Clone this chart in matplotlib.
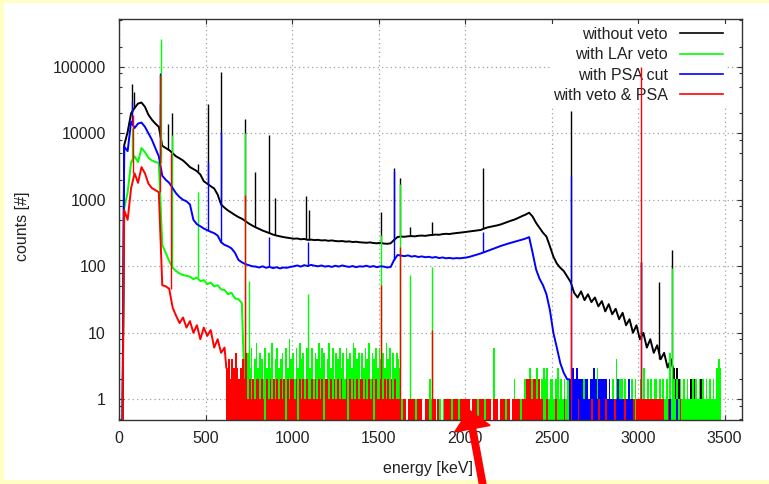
import matplotlib.pyplot as plt
import numpy as np
from matplotlib.lines import Line2D
from matplotlib.patches import Rectangle, FancyArrow
from matplotlib.ticker import FixedLocator, NullLocator

plt.rcParams['font.family'] = ['Liberation Sans', 'DejaVu Sans']

# high-count part of each spectrum, 20 keV bins starting at 0 keV
black_hi = [0, 6600, 10500, 20000, 24000, 28000, 29000, 25000, 19000, 16000,
            14000, 12500, 6500, 6000, 5600, 5000, 4500, 4200, 3900, 3500,
            3100, 2900, 2700, 2400, 1900, 1750, 1600, 1480, 1200, 850,
            760, 690, 640, 590, 550, 520, 480, 440, 410, 385,
            365, 345, 330, 315, 300, 290, 282, 275, 270, 265,
            260, 262, 255, 258, 250, 252, 248, 250, 245, 247,
            242, 245, 240, 238, 240, 235, 237, 232, 234, 230,
            228, 226, 229, 224, 222, 225, 220, 218, 222, 250,
            276, 280, 278, 283, 285, 282, 288, 290, 287, 293,
            296, 300, 298, 305, 308, 306, 312, 316, 320, 325,
            330, 335, 340, 345, 352, 370, 385, 395, 405, 415,
            430, 450, 470, 490, 510, 540, 570, 600, 640, 560,
            450, 380, 320, 280, 200, 140, 110, 95, 85, 70,
            58, 40, 34, 42, 31, 38, 29, 34, 25, 30,
            21, 27, 19, 23, 16, 20, 13, 16, 10, 13,
            8, 10, 6, 8, 5, 6.5, 4, 5, 3, 4]
green_hi = [0, 740, 1300, 3700, 4500, 3700, 6000, 5200, 4300, 3900,
            3700, 3600, 210, 160, 120, 95, 85, 78, 74, 72,
            70, 64, 68, 60, 62, 54, 57, 50, 52, 45,
            44, 38, 40, 33, 32, 28]
blue_hi = [0, 6300, 5400, 15000, 12000, 14000, 14500, 12500, 10000, 8000,
           6000, 4500, 2300, 2000, 1800, 1500, 1250, 1100, 1000, 950,
           850, 500, 430, 400, 370, 350, 330, 315, 290, 230,
           210, 200, 186, 160, 125, 115, 108, 104, 100, 99,
           96, 100, 95, 98, 94, 97, 93, 96, 95, 98,
           100, 103, 99, 104, 101, 105, 102, 100, 103, 99,
           101, 98, 102, 99, 103, 100, 98, 101, 97, 100,
           99, 102, 98, 101, 97, 100, 99, 96, 98, 125,
           148, 145, 142, 146, 140, 143, 138, 141, 137, 139,
           135, 138, 133, 136, 132, 134, 131, 133, 132, 134,
           136, 140, 145, 150, 156, 163, 170, 178, 186, 195,
           204, 212, 220, 228, 236, 244, 252, 262, 275, 160,
           90, 65, 52, 38, 22, 10, 6, 3.5, 2.5, 2]
red_hi = [0, 700, 500, 1500, 2500, 1800, 3100, 2500, 1750, 1500,
          1400, 1300, 52, 50, 46, 24, 18, 14, 17, 12,
          15, 10, 13, 8, 12, 9, 11, 6, 8, 5,
          6]

# low-count tails, one digit per 10 keV bin, continuing where *_hi ends
black_lo = "3232212121 2121112101 1011011000"
green_lo = ("42536247 3542635372 4634526384 5263745263 3625473652 4736254635 "
            "2645376452 5364725463 6453746253 5431010110 0101100102 1010010110 "
            "0110101001 1010110100 0110106010 1011010120 1010212322 2321232312 "
            "2123121212 1212312121 2121213121 1212121412 2121212121 1213121212 "
            "2121212151 2121212121 1212121212 1212134300")
blue_lo = ("2232322212 2122321222 2212111121 1111211100 1010010100 0100100010 "
           "0010000000 0000000000 0000000000")
red_lo = ("34243532 3425121212 2121021212 1212120212 2120212121 1212121202 "
          "2121212121 1202121212 2121212021 1212121212 1110110111 1011100110 "
          "0110100011 1101110111 1110111011 1011101110 1110110111 1101122212 "
          "2121100100 0010000100 0100010000 0001000100 0100001000 0010000101 "
          "1111111111 1111100100 0000100000 0000000000 0000000000")

# gamma lines: (energy keV, peak counts)
black_peaks = [(75, 56000), (87, 42000), (237, 28000), (281, 14000), (304, 19900),
               (454, 3400), (512, 28000), (589, 84000), (727, 16400), (785, 2660),
               (866, 9400), (900, 1050), (1079, 1140), (1098, 700), (1512, 650),
               (1589, 3050), (1621, 2100), (1679, 390), (1808, 470), (2106, 2960),
               (2612, 22000), (3016, 117), (3122, 58), (3195, 175)]
green_peaks = [(77, 12000), (240, 260000), (304, 9500), (454, 1300), (727, 10000),
               (752, 60), (1092, 39), (1512, 300), (1621, 1750), (1679, 74),
               (1808, 99), (3195, 93)]
blue_peaks = [(77, 31000), (238, 80000), (512, 3700), (589, 10500), (866, 280),
              (1094, 230), (1589, 2700), (2106, 330), (2612, 2300), (3016, 117)]
red_peaks = [(83, 18600), (238, 74000), (298, 5000), (727, 1200), (1512, 52),
             (1621, 196), (1808, 11), (2612, 41), (3016, 100000)]

labels = ['without veto', 'with LAr veto', 'with PSA cut', 'with veto & PSA']
colors = ['black', '#00ff00', '#0000ff', '#ff0000']

FLOOR = 0.3  # empty bins are drawn below the axis floor


def build(hi, lo):
    lo_vals = [int(c) for c in lo.replace(' ', '')]
    e_hi = np.arange(len(hi) + 1) * 20.0
    e_lo = e_hi[-1] + np.arange(len(lo_vals) + 1) * 10.0
    c_hi = np.where(np.array(hi, float) > 0, hi, FLOOR)
    c_lo = np.where(np.array(lo_vals, float) > 0, lo_vals, FLOOR)
    return e_hi, c_hi, e_lo, c_lo


def draw(ax, hi, lo, peaks, color):
    e_hi, c_hi, e_lo, c_lo = build(hi, lo)
    # continuum as a line through bin centres, rising from the floor at the first edge
    x = 0.5 * (e_hi[:-1] + e_hi[1:])
    x[0] = e_hi[1]
    x = np.append(x, e_lo[0])
    y = np.append(c_hi, c_lo[0])
    ax.plot(x, y, color=color, lw=1.4, zorder=2)
    # sparse counts: filled steps down to the floor
    ax.stairs(c_lo, e_lo, color=color, fill=True, baseline=FLOOR, lw=0, zorder=2)
    edges = np.concatenate([e_hi, e_lo[1:]])
    counts = np.concatenate([c_hi, c_lo])
    for e, top in peaks:
        i = np.searchsorted(edges, e) - 1
        ax.vlines(e, counts[i], top, color=color, lw=1.0, zorder=2)


fig = plt.figure(figsize=(7.69, 4.84), dpi=100, facecolor='#ffffc4')
fig.add_artist(Rectangle((0.04, 0.04), 7.65, 4.77, transform=fig.dpi_scale_trans,
                         facecolor='white', edgecolor='none', zorder=-1))
ax = fig.add_axes([119 / 769, 64 / 484, 623 / 769, 401 / 484])

draw(ax, black_hi, black_lo, black_peaks, colors[0])
draw(ax, green_hi, green_lo, green_peaks, colors[1])
draw(ax, blue_hi, blue_lo, blue_peaks, colors[2])
draw(ax, red_hi, red_lo, red_peaks, colors[3])

ax.set_yscale('log')
ax.set_xlim(0, 3600)
ax.set_ylim(0.489, 5.23e5)
ax.set_xticks(np.arange(0, 3501, 500))
ax.xaxis.set_minor_locator(NullLocator())
yt = [1, 10, 100, 1000, 10000, 100000]
ax.set_yticks(yt)
ax.set_yticklabels([str(v) for v in yt])
ax.yaxis.set_minor_locator(FixedLocator([m * 10.0 ** k for k in range(-1, 6) for m in (2, 5, 8)]))
ax.tick_params(which='both', direction='in', top=True, right=True,
               labelsize=11.5, labelcolor='#222222', color='#333333')
ax.tick_params(which='major', length=3.6, width=0.8)
ax.tick_params(which='minor', length=2.2, width=0.8)
ax.tick_params(axis='x', pad=8)
ax.tick_params(axis='y', pad=9.4)
ax.set_axisbelow(True)
ax.grid(True, which='major', color='#a0a0a0', ls=(0, (1, 2.5)), lw=0.9)
for s in ax.spines.values():
    s.set_color('#333333')
    s.set_linewidth(1.0)

ax.set_xlabel('energy [keV]', fontsize=11.5, color='#222222')
ax.set_ylabel('counts [#]', fontsize=11.5, color='#222222')
ax.xaxis.set_label_coords(0.496, -0.102)
ax.yaxis.set_label_coords(-0.143, 0.484)

handles = [Line2D([], [], color=c, lw=1.2) for c in colors]
leg = ax.legend(handles, labels, loc='upper right', bbox_to_anchor=(0.9746, 0.988),
                markerfirst=False, fontsize=11.5, frameon=True, facecolor='white',
                edgecolor='none', framealpha=1, fancybox=False, handlelength=2.7,
                handletextpad=0.75, labelspacing=0.33, borderpad=0.2, borderaxespad=0)
leg.set_zorder(1.5)
for t in leg.get_texts():
    t.set_color('#222222')

fig.add_artist(FancyArrow(4.83, -0.02, -0.14, 0.76, width=0.065, head_width=0.36,
                          head_length=0.19, length_includes_head=True,
                          color='#ff0000', transform=fig.dpi_scale_trans, zorder=10))

fig.savefig('out.png', dpi=100, facecolor=fig.get_facecolor())
